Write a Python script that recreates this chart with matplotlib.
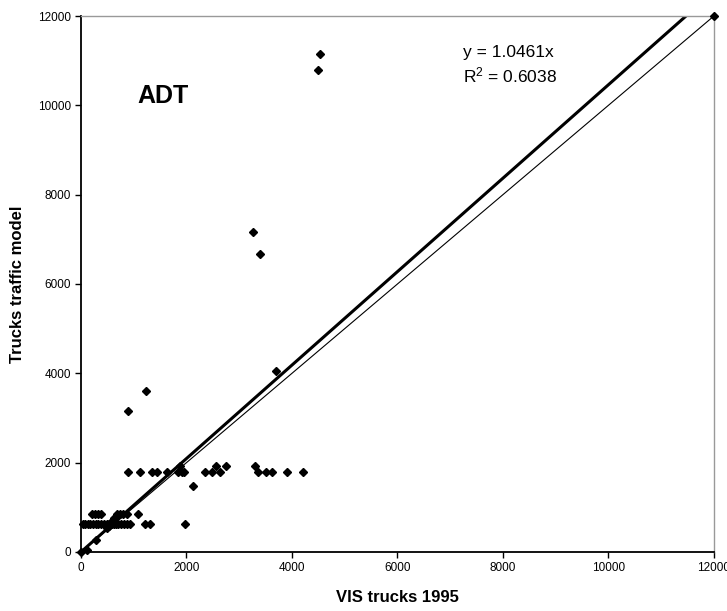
"""ADT scatter: trucks traffic model vs VIS trucks 1995, with fitted line y = 1.0461x."""
import matplotlib

matplotlib.use("Agg")
import matplotlib.pyplot as plt
import numpy as np

plt.rcParams["font.family"] = ["Liberation Sans", "DejaVu Sans"]

# observed points (x = VIS trucks 1995, y = trucks traffic model)
vis_x = [
    0, 110, 290,
    30, 80, 130, 180, 230, 280, 330, 380, 440, 500, 540, 580, 620, 660, 700,
    760, 820, 880, 930, 1220, 1300, 1980,
    200, 260, 320, 380, 680, 740, 800, 880, 1090,
    500, 540, 580, 620, 680,
    900, 1120, 1350, 1440, 1640, 1840, 1920, 1960, 2350, 2480, 2640, 3360,
    3500, 3620, 3910, 4210,
    1880, 2560, 2740, 3300,
    2120, 1240, 900, 3700, 3260, 3400, 4500, 4540, 12000,
]
model_y = [
    0, 40, 260,
    620, 620, 620, 620, 620, 620, 620, 620, 620, 620, 620, 620, 620, 620, 620,
    620, 620, 620, 620, 620, 620, 620,
    860, 860, 860, 860, 860, 860, 860, 860, 860,
    540, 580, 700, 760, 800,
    1800, 1800, 1800, 1800, 1800, 1800, 1800, 1800, 1800, 1800, 1800, 1800,
    1800, 1800, 1800, 1800,
    1920, 1930, 1930, 1930,
    1480, 3600, 3160, 4060, 7170, 6670, 10800, 11140, 12000,
]

slope = 1.0461
r_squared = 0.6038
axis_max = 12000

fig = plt.figure(figsize=(7.27, 6.11), dpi=100)
ax = fig.add_axes([0.1114, 0.0966, 0.8706, 0.8772])

line_x = np.array([0, axis_max])
ax.plot(line_x, line_x, color="black", lw=0.8, zorder=2)
ax.plot(line_x, slope * line_x, color="black", lw=2.2, zorder=2)
ax.plot(vis_x, model_y, "D", color="black", ms=4.4, ls="none", zorder=3,
        clip_on=False)

ax.set_xlim(0, axis_max)
ax.set_ylim(0, axis_max)
ax.set_xticks(np.arange(0, axis_max + 1, 2000))
ax.set_yticks(np.arange(0, axis_max + 1, 2000))
ax.tick_params(direction="out", length=4, width=1, labelsize=8.5, pad=3)

for side in ("left", "bottom"):
    ax.spines[side].set_color("black")
    ax.spines[side].set_linewidth(1.3)
for side in ("top", "right"):
    ax.spines[side].set_color("#999999")
    ax.spines[side].set_linewidth(1)

ax.set_xlabel("VIS trucks 1995", fontsize=12, fontweight="bold")
ax.set_ylabel("Trucks traffic model", fontsize=12, fontweight="bold")
ax.xaxis.label.set_va("center")
ax.yaxis.label.set_va("center")
ax.xaxis.set_label_coords(0.5, -0.085)
ax.yaxis.set_label_coords(-0.1, 0.5)

ax.text(0.089, 0.838, "ADT", transform=ax.transAxes, fontsize=18,
        fontweight="bold", va="baseline", ha="left")
ax.text(0.603, 0.9235, f"y = {slope:.4f}x", transform=ax.transAxes,
        fontsize=12.5, va="baseline", ha="left")
ax.text(0.603, 0.877, f"$\\mathregular{{R^2}}$ = {r_squared:.4f}",
        transform=ax.transAxes, fontsize=12.5, va="baseline", ha="left")

fig.savefig("out.png", dpi=100)
plt.close(fig)
